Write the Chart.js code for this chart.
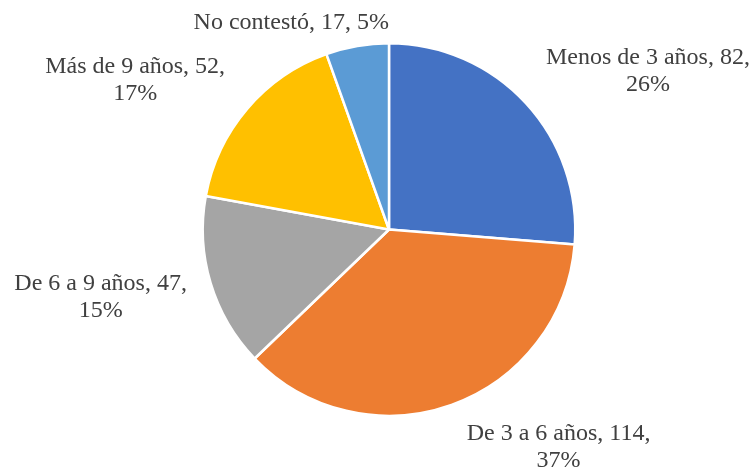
<!DOCTYPE html>
<html>
<head>
<meta charset="utf-8">
<script src="https://cdn.jsdelivr.net/npm/chart.js@4.4.1/dist/chart.umd.min.js"></script>
<style>
  html, body { margin: 0; padding: 0; background: #fff; }
  #wrap { width: 754px; height: 472px; position: relative; }
</style>
</head>
<body>
<div id="wrap"><canvas id="pieChart" width="754" height="472"></canvas></div>
<script>
// Antigüedad: categorías y respuestas
const categorias = ['Menos de 3 años', 'De 3 a 6 años', 'De 6 a 9 años', 'Más de 9 años', 'No contestó'];
const respuestas = [82, 114, 47, 52, 17];
const colores = ['#4472C4', '#ED7D31', '#A5A5A5', '#FFC000', '#5B9BD5'];

// desplazamiento de cada etiqueta respecto al borde del sector
const desplazamientos = [[122, -32], [107, 42], [-110, 14], [-112, -29], [-66, -23]];

const total = respuestas.reduce((a, b) => a + b, 0);

// Etiquetas fuera del pastel: "categoría, valor, %"
const etiquetasPlugin = {
    id: 'etiquetas',
    afterDraw(chart) {
        const ctx = chart.ctx;
        const arcs = chart.getDatasetMeta(0).data;
        ctx.save();
        ctx.font = '24px "Liberation Serif", "Times New Roman", serif';
        ctx.fillStyle = '#404040';
        ctx.textAlign = 'center';
        ctx.textBaseline = 'middle';
        arcs.forEach((arc, i) => {
            const p = arc.getProps(['x', 'y', 'startAngle', 'endAngle', 'outerRadius'], true);
            const mid = (p.startAngle + p.endAngle) / 2;
            const x = p.x + Math.cos(mid) * p.outerRadius + desplazamientos[i][0];
            const y = p.y + Math.sin(mid) * p.outerRadius + desplazamientos[i][1];
            const pct = Math.round(respuestas[i] / total * 100) + '%';
            if (i === 4) {
                ctx.fillText(categorias[i] + ', ' + respuestas[i] + ', ' + pct, x, y);
            } else {
                ctx.fillText(categorias[i] + ', ' + respuestas[i] + ',', x, y - 13.5);
                ctx.fillText(pct, x, y + 13.5);
            }
        });
        ctx.restore();
    }
};

new Chart(document.getElementById('pieChart').getContext('2d'), {
    type: 'pie',
    data: {
        labels: categorias,
        datasets: [{
            data: respuestas,
            backgroundColor: colores,
            borderColor: '#ffffff',
            borderWidth: 2.5
        }]
    },
    options: {
        responsive: false,
        animation: false,
        layout: { padding: { top: 42, bottom: 55, left: 89, right: 65 } },
        plugins: {
            legend: { display: false },
            tooltip: { enabled: false }
        }
    },
    plugins: [etiquetasPlugin]
});
</script>
</body>
</html>
